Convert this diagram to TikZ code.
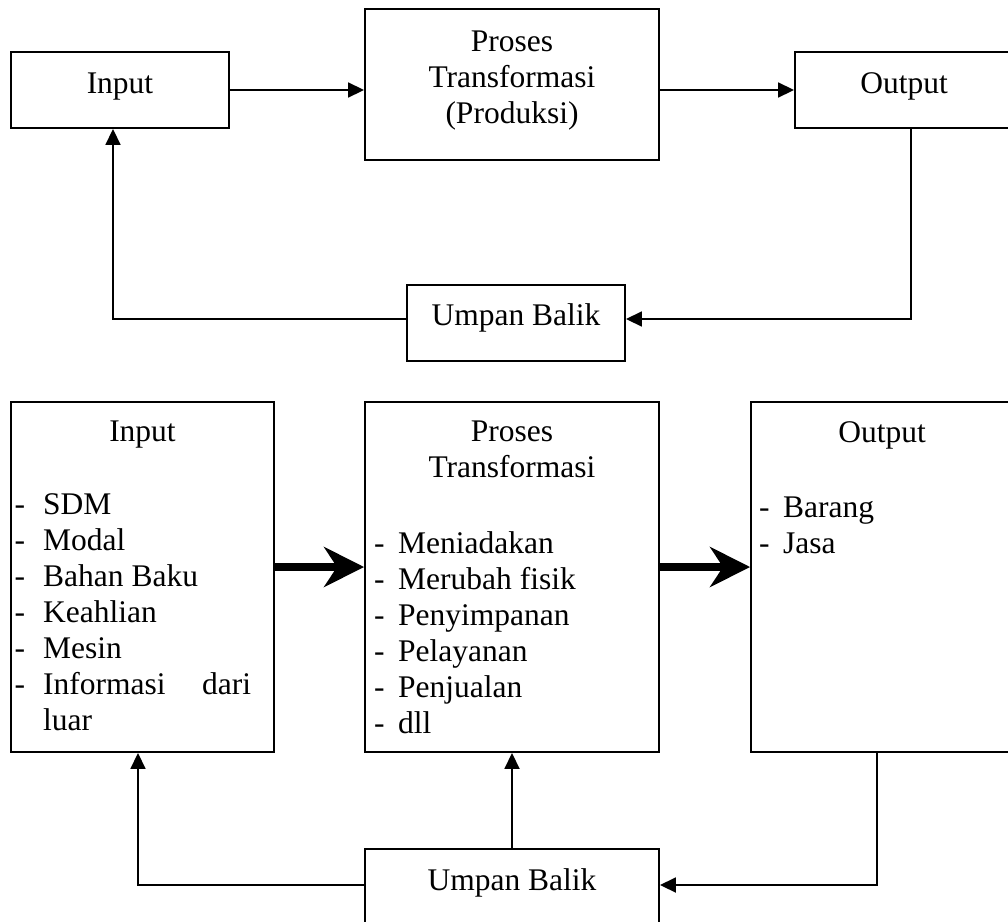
\documentclass[tikz,border=0pt]{standalone}
\usepackage{fontspec}
\setmainfont{Liberation Serif}
\usetikzlibrary{arrows.meta}
\begin{document}
\begin{tikzpicture}[x=1pt,y=-1pt,
  box/.style={draw, line width=1.9pt, inner sep=0pt},
  txt/.style={inner sep=0pt, anchor=base, font=\fontsize{31.5pt}{36pt}\selectfont},
  item/.style={txt, anchor=base west},
  link/.style={line width=1.8pt},
  arr/.style={link, -{Triangle[length=16pt,width=15pt]}},
  bigarr/.style={line width=8.5pt, -{Stealth[length=40pt,width=40pt,inset=13pt]}}
]
% page area
\clip (0,0) rectangle (1008,921);
\fill[white] (0,0) rectangle (1008,921);

% ---------- upper diagram ----------
\node[box, minimum width=218pt, minimum height=76pt] (in1) at (120,90) {};
\node[box, minimum width=294pt, minimum height=151pt] (pr1) at (512,84.5) {};
\node[box, minimum width=217pt, minimum height=76pt] (out1) at (903.5,90) {};
\node[box, minimum width=218pt, minimum height=76pt] (ub1) at (516,323) {};

\node[txt] (in1t) at (120,93) {Input};
\node[txt] (pr1a) at (512,51) {Proses};
\node[txt] (pr1b) at (512,87) {Transformasi};
\node[txt] (pr1c) at (512,123) {(Produksi)};
\node[txt] (out1t) at (904,93) {Output};
\node[txt] (ub1t) at (516,325) {Umpan Balik};

\draw[arr] (in1.east) -- (in1.east -| pr1.west);
\draw[arr] (pr1.east |- out1.west) -- (out1.west);
\draw[arr] ([xshift=7.5pt]out1.south) |- ([yshift=4pt]ub1.east);
\draw[arr] ([yshift=4pt]ub1.west) -| ([xshift=-7pt]in1.south);

% ---------- lower diagram ----------
\node[box, minimum width=263pt, minimum height=350pt] (in2) at (142.5,577) {};
\node[box, minimum width=294pt, minimum height=350pt] (pr2) at (512,577) {};
\node[box, minimum width=262pt, minimum height=350pt] (out2) at (882,577) {};
\node[box, minimum width=294pt, minimum height=76pt] (ub2) at (512,887) {};

% input list
\node[txt] (in2t) at (142.5,441) {Input};
\foreach \t [count=\i from 0] in {SDM,Modal,Bahan Baku,Keahlian,Mesin,{\makebox[208pt][s]{Informasi dari}}}{
  \node[item] (in2d\i) at (14.5,514+36*\i) {-};
  \node[item] (in2i\i) at (43,514+36*\i) {\t};
}
\node[item] (in2i6) at (43,730) {luar};

% process list
\node[txt] (pr2a) at (512,441) {Proses};
\node[txt] (pr2b) at (512,477) {Transformasi};
\foreach \t [count=\i from 0] in {Meniadakan,Merubah fisik,Penyimpanan,Pelayanan,Penjualan,dll}{
  \node[item] (pr2d\i) at (374,553+36*\i) {-};
  \node[item] (pr2i\i) at (398,553+36*\i) {\t};
}

% output list
\node[txt] (out2t) at (882,442) {Output};
\foreach \t [count=\i from 0] in {Barang,Jasa}{
  \node[item] (out2d\i) at (759,517+36*\i) {-};
  \node[item] (out2i\i) at (783,517+36*\i) {\t};
}

\node[txt] (ub2t) at (512,890) {Umpan Balik};

\draw[bigarr] ([yshift=10pt]in2.east) -- ([yshift=10pt]pr2.west);
\draw[bigarr] ([yshift=10pt]pr2.east) -- ([yshift=10pt]out2.west);
\draw[arr] ([xshift=-5pt]out2.south) |- ([yshift=2pt]ub2.east);
\draw[arr] (ub2.north) -- (pr2.south);
\draw[arr] ([yshift=2pt]ub2.west) -| ([xshift=-4.5pt]in2.south);
\end{tikzpicture}
\end{document}
